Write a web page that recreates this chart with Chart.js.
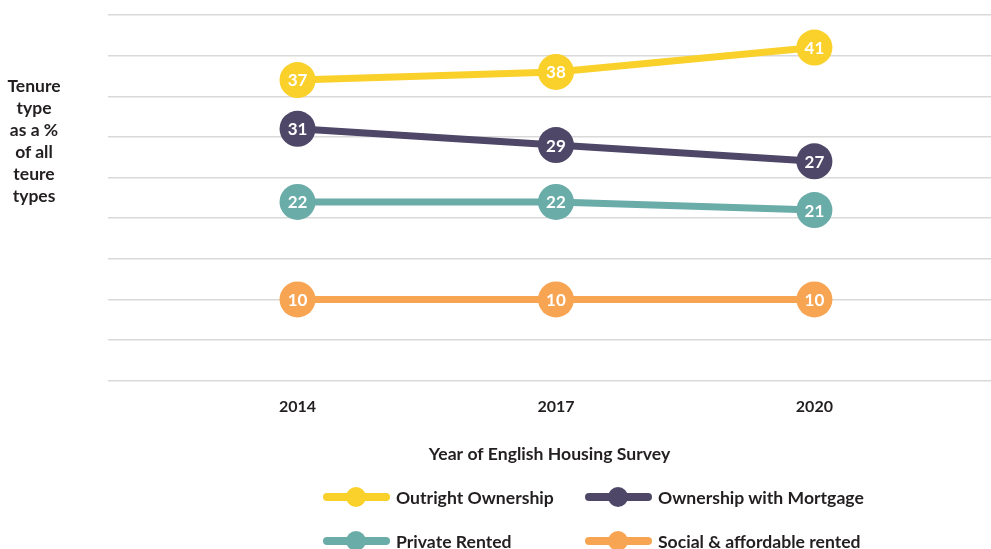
<!DOCTYPE html>
<html>
<head>
<meta charset="utf-8">
<script src="https://cdn.jsdelivr.net/npm/chart.js@4/dist/chart.umd.min.js"></script>
<style>
  html, body { margin: 0; padding: 0; background: #fff; }
  body { width: 991px; height: 549px; position: relative; overflow: hidden; font-family: Lato, "Open Sans", sans-serif; color: #231f20; }
  #chartWrap { position: absolute; left: 0; top: 0; width: 991px; height: 549px; }
  #yTitle { position: absolute; left: -2px; top: 75px; width: 72px; text-align: center; font-weight: bold; font-size: 17.5px; line-height: 22px; }
  .legend-item { position: absolute; height: 22px; display: flex; align-items: center; font-weight: bold; font-size: 17.6px; white-space: nowrap; }
  .swatch { position: relative; width: 67px; height: 22px; margin-right: 6px; }
  .swatch .bar { position: absolute; left: 0; right: 0; top: 7px; height: 8px; border-radius: 4px; }
  .swatch .dot { position: absolute; left: 23px; top: 1px; width: 20px; height: 20px; border-radius: 50%; }
</style>
</head>
<body>
<div id="chartWrap"><canvas id="tenureChart" width="991" height="549"></canvas></div>
<div id="yTitle">Tenure<br>type<br>as a %<br>of all<br>teure<br>types</div>
<div id="legend"></div>
<script>
const years = [2014, 2017, 2020];
const seriesNames = ["Outright Ownership", "Ownership with Mortgage", "Private Rented", "Social & affordable rented"];
const outrightOwnership = [37, 38, 41];
const ownershipWithMortgage = [31, 29, 27];
const privateRented = [22, 22, 21];
const socialAffordable = [10, 10, 10];

const colours = ["#fad02a", "#4e4767", "#6aaca8", "#f8a553"];
const seriesValues = [outrightOwnership, ownershipWithMortgage, privateRented, socialAffordable];

// legend positions (left edge of swatch, vertical centre)
const legendSpots = [[323, 497], [585, 497], [323, 541], [585, 541]];
const legend = document.getElementById("legend");
seriesNames.forEach((name, i) => {
  const item = document.createElement("div");
  item.className = "legend-item";
  item.style.left = legendSpots[i][0] + "px";
  item.style.top = (legendSpots[i][1] - 11) + "px";
  item.innerHTML = `<div class="swatch"><div class="bar" style="background:${colours[i]}"></div><div class="dot" style="background:${colours[i]}"></div></div><span>${name.replace("&", "&amp;")}</span>`;
  legend.appendChild(item);
});

// white value inside each circle
const valueLabels = {
  id: "valueLabels",
  afterDatasetsDraw(chart) {
    const ctx = chart.ctx;
    ctx.save();
    ctx.fillStyle = "#fff";
    ctx.font = "bold 17px Lato, 'Open Sans', sans-serif";
    ctx.textAlign = "center";
    ctx.textBaseline = "middle";
    chart.data.datasets.forEach((ds, i) => {
      chart.getDatasetMeta(i).data.forEach((pt, j) => {
        ctx.fillText(String(ds.data[j].y), pt.x, pt.y + 1);
      });
    });
    ctx.restore();
  }
};

new Chart(document.getElementById("tenureChart"), {
  type: "line",
  data: {
    datasets: seriesNames.map((name, i) => ({
      label: name,
      data: years.map((yr, j) => ({ x: yr, y: seriesValues[i][j] })),
      borderColor: colours[i],
      backgroundColor: colours[i],
      borderWidth: 7,
      pointRadius: 18,
      pointHoverRadius: 18,
      pointBorderWidth: 0,
      tension: 0,
    })),
  },
  options: {
    responsive: false,
    animation: false,
    layout: { autoPadding: false, padding: { left: 108, right: 0, top: 15, bottom: 84 } },
    scales: {
      x: {
        type: "linear",
        min: 2011.8,
        max: 2022.05,
        afterBuildTicks: (axis) => { axis.ticks = years.map((v) => ({ value: v })); },
        grid: { display: false, drawTicks: false },
        border: { display: false },
        ticks: {
          padding: 17,
          color: "#231f20",
          font: { family: "Lato, 'Open Sans', sans-serif", size: 16, weight: "bold" },
          callback: (v) => String(v),
        },
        title: {
          display: true,
          text: "Year of English Housing Survey",
          color: "#231f20",
          padding: { top: 10, bottom: 0 },
          font: { family: "Lato, 'Open Sans', sans-serif", size: 17.6, weight: "bold" },
        },
      },
      y: {
        min: 0,
        max: 45,
        ticks: { display: false, stepSize: 5 },
        grid: { color: "#d9d9d9", lineWidth: 1.5, drawTicks: false },
        border: { display: false },
      },
    },
    plugins: {
      legend: { display: false },
      tooltip: { enabled: false },
    },
  },
  plugins: [valueLabels],
});
</script>
</body>
</html>
